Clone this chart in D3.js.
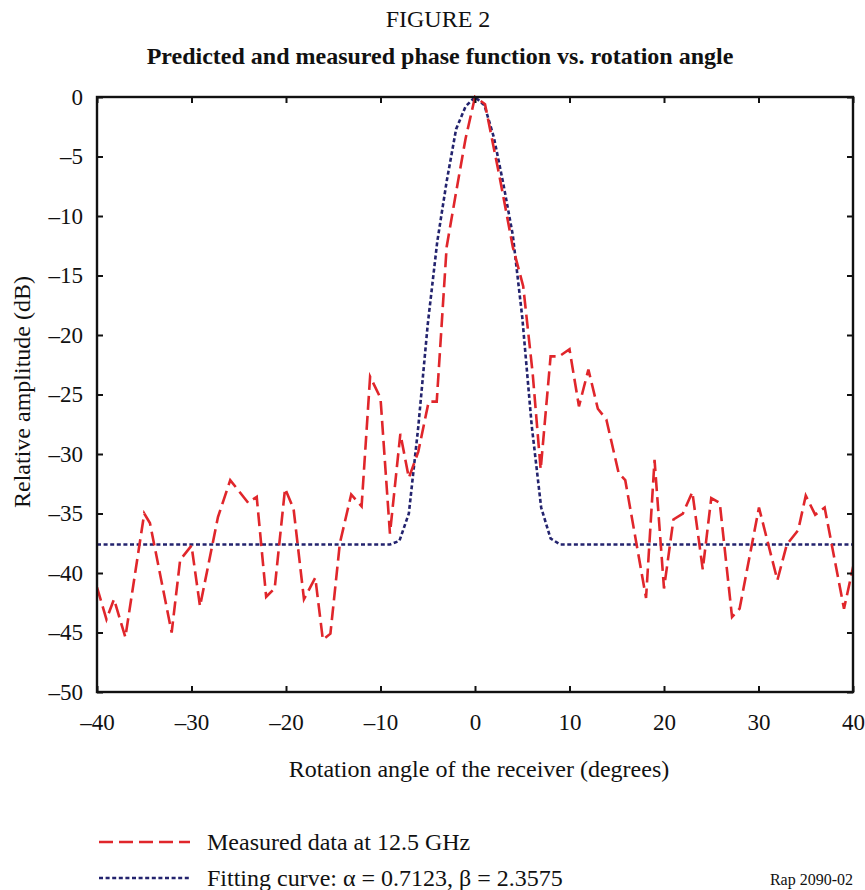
<!DOCTYPE html>
<html>
<head>
<meta charset="utf-8">
<script src="https://cdn.jsdelivr.net/npm/d3@7.9.0/dist/d3.min.js"></script>
<style>
  body { margin: 0; background: #fff; }
  svg text { font-family: "Liberation Serif", "Times New Roman", serif; fill: #111; }
</style>
</head>
<body>
<svg id="chart" width="865" height="890"></svg>
<script>
// measured data at 12.5 GHz (angle in degrees, amplitude in dB)
const measuredAngle = [-40, -39, -38.2, -37, -35, -34.4, -32.1, -31.2, -30, -29.1, -27.2, -25.9, -24, -23.1,
  -22.1, -21.2, -20.1, -19.2, -18.1, -16.9, -16.1, -15.3, -14.3, -13.1, -12, -11.1, -10, -9, -7.9, -7,
  -6, -4.9, -4.05, -3, -2, -1, 0, 1.06, 2.6, 4, 5.1, 6.1, 6.95, 8, 8.9, 10, 11, 12, 13, 13.9, 15.2, 15.9,
  18.1, 19, 20, 21, 22, 23, 24.1, 25, 25.9, 27.2, 28, 30.05, 32, 33, 34.2, 35, 36, 37, 39.05, 40.2];
const measuredDb = [-41.2, -43.9, -42.2, -45.4, -35.0, -35.8, -45.0, -38.9, -37.7, -42.8, -35.3, -32.2, -34.1, -33.6,
  -42.0, -41.3, -32.9, -34.6, -42.2, -40.4, -45.6, -45.1, -37.5, -33.4, -34.4, -23.5, -25.3, -36.7, -28.3, -32.0,
  -29.8, -25.6, -25.6, -12.6, -8.0, -3.5, 0, -0.6, -6.7, -12.6, -15.9, -23.2, -31.3, -21.8, -21.8, -21.2, -26.0, -22.9, -26.2, -27.1, -31.6, -32.2,
  -42.1, -30.5, -41.3, -35.5, -35.0, -33.2, -39.7, -33.7, -34.1, -43.7, -43.0, -34.5, -40.6, -37.6, -36.4, -33.5, -35.1, -34.5, -43.0, -38.8];

// fitting curve: alpha = 0.7123, beta = 2.3575
const fitAngle = [-40, -9, -8, -7, -6, -5, -4, -3, -2, -1, 0, 1, 2, 3, 4, 5, 6, 7, 8, 9, 40];
const fitDb = [-37.6, -37.6, -37.3, -35.0, -27.7, -19.1, -12.2, -7.1, -2.7, -0.8, 0, -0.7, -3.4, -7.3, -11.6, -18.5, -27.6, -34.5, -37.1, -37.6, -37.6];

const xTicks = [-40, -30, -20, -10, 0, 10, 20, 30, 40];
const yTicks = [0, -5, -10, -15, -20, -25, -30, -35, -40, -45, -50];

const svg = d3.select('#chart');
const plotLeft = 97, plotRight = 853, plotTop = 97, plotBottom = 692;

const x = d3.scaleLinear().domain([-40, 40]).range([plotLeft, plotRight]);
const y = d3.scaleLinear().domain([-50, 0]).range([plotBottom, plotTop]);

const fmt = d => (d < 0 ? '\u2013' + Math.abs(d) : String(d));

// titles
svg.append('text').attr('x', 438).attr('y', 27).attr('text-anchor', 'middle')
  .style('font-size', '24px').text('FIGURE 2');
svg.append('text').attr('x', 440).attr('y', 64).attr('text-anchor', 'middle')
  .style('font-size', '24px').style('font-weight', 'bold')
  .text('Predicted and measured phase function vs. rotation angle');

// clip so the last measured point stops at the frame
svg.append('clipPath').attr('id', 'plot-clip')
  .append('rect').attr('x', plotLeft).attr('y', plotTop - 2)
  .attr('width', plotRight - plotLeft).attr('height', plotBottom - plotTop + 4);

const line = d3.line().x(d => x(d[0])).y(d => y(d[1]));

svg.append('path')
  .datum(d3.zip(fitAngle, fitDb))
  .attr('clip-path', 'url(#plot-clip)')
  .attr('d', line)
  .attr('fill', 'none')
  .attr('stroke', '#23236e')
  .attr('stroke-width', 2.6)
  .attr('stroke-dasharray', '4,2.6');

svg.append('path')
  .datum(d3.zip(measuredAngle, measuredDb))
  .attr('clip-path', 'url(#plot-clip)')
  .attr('d', line)
  .attr('fill', 'none')
  .attr('stroke', '#e0262b')
  .attr('stroke-width', 2.6)
  .attr('stroke-dasharray', '14,6');

// axes (ticks point inward on all four sides)
const axisStyle = g => {
  g.select('.domain').remove();
  g.selectAll('.tick line').attr('stroke', '#111').attr('stroke-width', 2);
  g.selectAll('.tick text').style('font-size', '23px')
    .style('font-family', '"Liberation Serif", "Times New Roman", serif').attr('fill', '#111');
};

svg.append('g').attr('transform', `translate(0,${plotBottom})`)
  .call(d3.axisBottom(x).tickValues(xTicks).tickFormat(fmt).tickSizeInner(-6).tickPadding(22))
  .call(axisStyle);
svg.append('g').attr('transform', `translate(0,${plotTop})`)
  .call(d3.axisTop(x).tickValues(xTicks).tickFormat('').tickSizeInner(-6))
  .call(axisStyle);
svg.append('g').attr('transform', `translate(${plotLeft},0)`)
  .call(d3.axisLeft(y).tickValues(yTicks).tickFormat(fmt).tickSizeInner(-6).tickPadding(14))
  .call(axisStyle);
svg.append('g').attr('transform', `translate(${plotRight},0)`)
  .call(d3.axisRight(y).tickValues(yTicks).tickFormat('').tickSizeInner(-6))
  .call(axisStyle);

svg.append('rect').attr('x', plotLeft).attr('y', plotTop)
  .attr('width', plotRight - plotLeft).attr('height', plotBottom - plotTop)
  .attr('fill', 'none').attr('stroke', '#111').attr('stroke-width', 2.4);

// axis titles
svg.append('text').attr('x', 479).attr('y', 777).attr('text-anchor', 'middle')
  .style('font-size', '24px').text('Rotation angle of the receiver (degrees)');
svg.append('text').attr('transform', 'translate(30,392) rotate(-90)').attr('text-anchor', 'middle')
  .style('font-size', '24px').text('Relative amplitude (dB)');

// legend
const legend = svg.append('g');
legend.append('line').attr('x1', 99).attr('x2', 190).attr('y1', 842).attr('y2', 842)
  .attr('stroke', '#e0262b').attr('stroke-width', 2.6).attr('stroke-dasharray', '14,6');
legend.append('text').attr('x', 207).attr('y', 850).style('font-size', '24px').text('Measured data at 12.5 GHz');
legend.append('line').attr('x1', 99).attr('x2', 190).attr('y1', 878).attr('y2', 878)
  .attr('stroke', '#23236e').attr('stroke-width', 2.6).attr('stroke-dasharray', '4,2.6');
legend.append('text').attr('x', 207).attr('y', 886).style('font-size', '24px')
  .text('Fitting curve: \u03b1 = 0.7123, \u03b2 = 2.3575');

svg.append('text').attr('x', 853).attr('y', 885).attr('text-anchor', 'end')
  .style('font-size', '16px').text('Rap 2090-02');
</script>
</body>
</html>
